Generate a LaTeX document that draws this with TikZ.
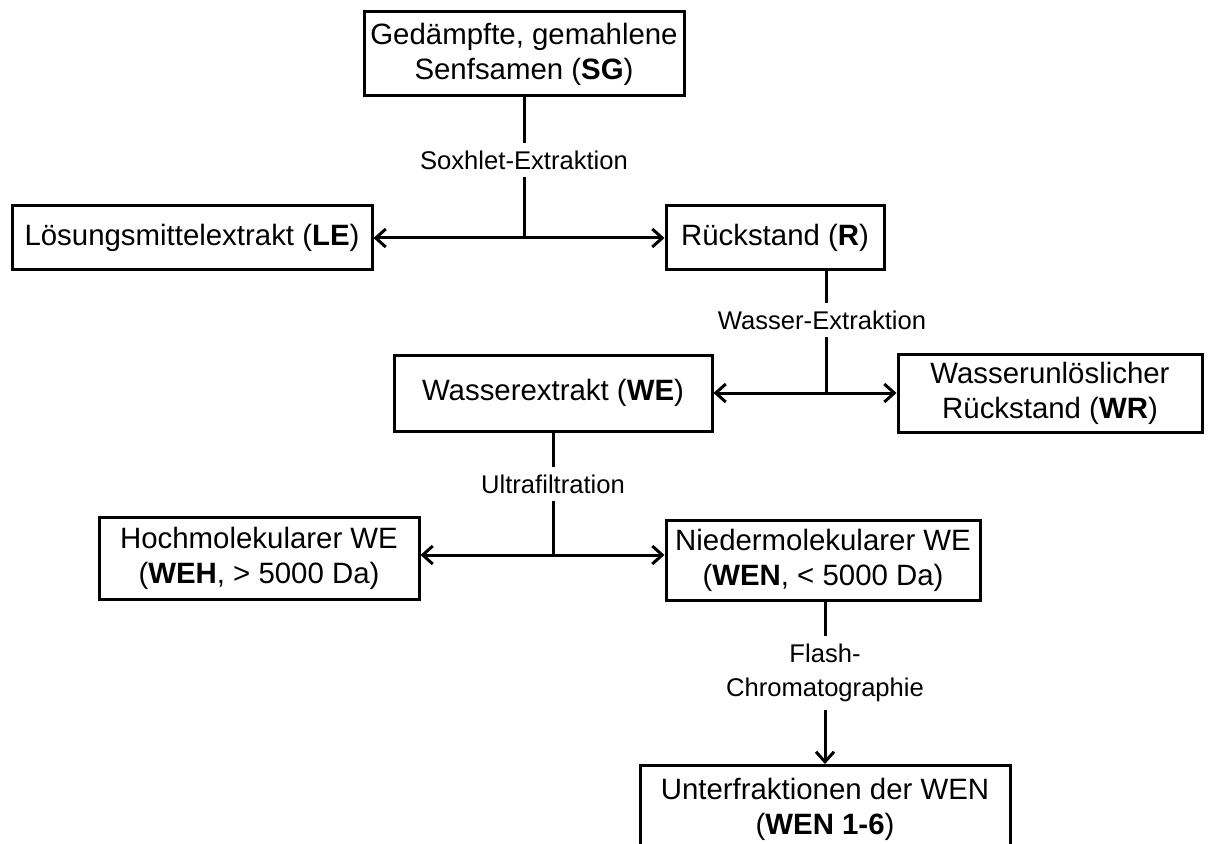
\documentclass[tikz,border=0pt]{standalone}
\usepackage{fontspec}
\setmainfont{Liberation Sans}
\usetikzlibrary{arrows.meta, positioning, calc}
\tikzset{
  fraktion/.style={draw=black, line width=1.5pt, fill=white, align=center,
    inner sep=0pt, font=\fontsize{14.7}{17.5}\selectfont},
  methode/.style={fill=white, align=center, inner sep=4pt,
    font=\fontsize{12.8}{17}\selectfont},
  strich/.style={line width=1.5pt},
  pfeil/.style={line width=1.5pt, -{Straight Barb[length=5pt,width=9pt]}},
}

\begin{document}
\begin{tikzpicture}[x=0.5pt,y=-0.5pt]
  \useasboundingbox (0,0) rectangle (1229,844);
  \clip (0,0) rectangle (1229,844);

  % Fraktionen
  \node[fraktion, minimum width=160pt, minimum height=42pt] (SG) at (524,54)
    {Gedämpfte, gemahlene\\Senfsamen (\textbf{SG})};
  \node[fraktion, minimum width=180pt, minimum height=32pt] (LE) at (192,238)
    {Lösungsmittelextrakt (\textbf{LE})};
  \node[fraktion, minimum width=109pt, minimum height=32pt] (R) at (775,238)
    {Rückstand (\textbf{R})};
  \node[fraktion, minimum width=159pt, minimum height=38pt] (WE) at (553,393)
    {Wasserextrakt (\textbf{WE})};
  \node[fraktion, minimum width=152pt, minimum height=39pt] (WR) at (1050,393)
    {Wasserunlöslicher\\Rückstand (\textbf{WR})};
  \node[fraktion, minimum width=160pt, minimum height=41pt] (WEH) at (259,558)
    {Hochmolekularer WE\\(\textbf{WEH}, > 5000 Da)};
  \node[fraktion, minimum width=157pt, minimum height=40pt] (WEN) at (823,560)
    {Niedermolekularer WE\\(\textbf{WEN}, < 5000 Da)};
  \node[fraktion, minimum width=185pt, minimum height=44pt, anchor=north] (UF) at (825,764)
    {Unterfraktionen der WEN\\(\textbf{WEN 1-6})};

  % Verzweigungspunkte
  \coordinate (j1) at (524,238);
  \coordinate (j2) at (826,393);
  \coordinate (j3) at (553,555);

  % Soxhlet-Extraktion
  \draw[strich] (SG.south) -- (j1);
  \node[methode] (m1) at (524,160) {Soxhlet-Extraktion};
  \draw[pfeil] (j1) -- (j1 -| LE.east);
  \draw[pfeil] (j1) -- (j1 -| R.west);

  % Wasser-Extraktion
  \draw[strich] (j2 |- R.south) -- (j2);
  \node[methode] (m2) at (822,320) {Wasser-Extraktion};
  \draw[pfeil] (j2) -- (j2 -| WE.east);
  \draw[pfeil] (j2) -- (j2 -| WR.west);

  % Ultrafiltration
  \draw[strich] (WE.south) -- (j3);
  \node[methode] (m3) at (553,484) {Ultrafiltration};
  \draw[pfeil] (j3) -- (j3 -| WEH.east);
  \draw[pfeil] (j3) -- (j3 -| WEN.west);

  % Flash-Chromatographie
  \draw[pfeil] (UF.north |- WEN.south) -- (UF.north);
  \node[methode] (m4) at (825,673) {Flash-\\Chromatographie};
\end{tikzpicture}
\end{document}
